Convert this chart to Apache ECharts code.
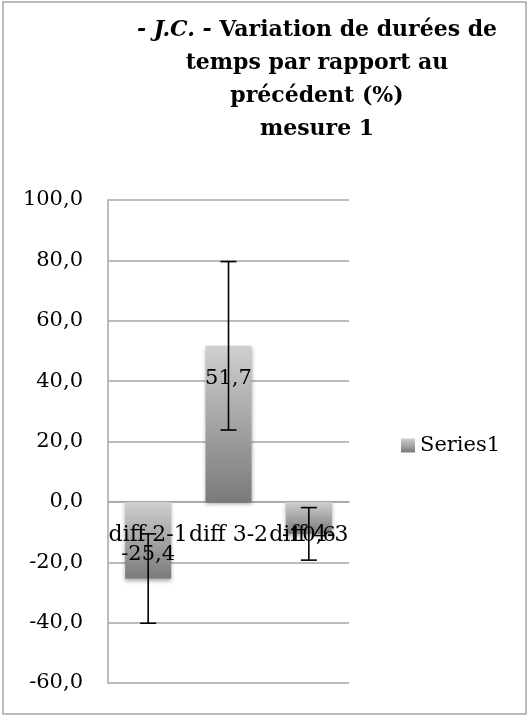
<!DOCTYPE html>
<html>
<head>
<meta charset="utf-8">
<script src="https://cdn.jsdelivr.net/npm/echarts@6/dist/echarts.min.js"></script>
<style>
  html, body { margin: 0; padding: 0; background: #fff; }
  #chart { width: 530px; height: 717px; }
</style>
</head>
<body>
<div id="chart"></div>
<script>
// Variation of time durations relative to the previous one (%), measure 1
const categories = ['diff 2-1', 'diff 3-2', 'diff 4-3'];
const values = [-25.4, 51.7, -10.6];
const errorMargins = [14.8, 27.9, 8.7];
const yTicks = { min: -60, max: 100, step: 20 };
const seriesName = 'Series1';

const FONT = '"DejaVu Serif", serif';
const fmt = v => v.toFixed(1).replace('.', ',');

const barFill = new echarts.graphic.LinearGradient(0, 0, 0, 1, [
  { offset: 0, color: '#cfcfcf' },
  { offset: 1, color: '#7a7a7a' }
]);

// vertical shift of each value label from the bar centre
const labelShift = [14, -45, 18];

const chart = echarts.init(document.getElementById('chart'), null, { renderer: 'canvas' });

chart.setOption({
  animation: false,
  backgroundColor: '#fff',
  graphic: [
    {
      type: 'rect',
      shape: { x: 3, y: 2, width: 523, height: 712 },
      style: { fill: 'none', stroke: '#a6a6a6', lineWidth: 1.5 },
      silent: true
    },
    {
      type: 'text',
      x: 317,
      y: 14,
      style: {
        text: '{it|- J.C. -} Variation de durées de\ntemps par rapport au\nprécédent (%)\nmesure 1',
        align: 'center',
        verticalAlign: 'top',
        font: 'bold 22px ' + FONT,
        fill: '#000',
        lineHeight: 33,
        rich: {
          it: { fontStyle: 'italic', fontWeight: 'bold', fontSize: 22, fontFamily: FONT, lineHeight: 33 }
        }
      }
    }
  ],
  legend: {
    data: [seriesName],
    left: 396,
    top: 430,
    itemWidth: 14,
    itemHeight: 14,
    icon: 'rect',
    textStyle: { fontFamily: FONT, fontSize: 21, color: '#000' }
  },
  grid: { left: 108, right: 181, top: 200, bottom: 34, containLabel: false },
  xAxis: {
    type: 'category',
    data: categories,
    axisLine: { show: true, onZero: true, lineStyle: { color: '#a6a6a6', width: 1.5 } },
    axisTick: { show: false },
    axisLabel: { show: false },
    splitLine: { show: false }
  },
  yAxis: {
    type: 'value',
    min: yTicks.min,
    max: yTicks.max,
    interval: yTicks.step,
    axisLine: { show: true, lineStyle: { color: '#a6a6a6', width: 1.5 } },
    axisTick: { show: false },
    axisLabel: {
      formatter: v => fmt(v),
      margin: 25,
      fontFamily: FONT,
      fontSize: 21,
      color: '#000'
    },
    splitLine: { show: true, lineStyle: { color: '#a6a6a6', width: 1.5 } }
  },
  series: [
    {
      name: seriesName,
      type: 'bar',
      barWidth: 46,
      itemStyle: {
        color: barFill,
        shadowColor: 'rgba(0,0,0,0.35)',
        shadowBlur: 4,
        shadowOffsetY: 2
      },
      data: values.map((v, i) => ({
        value: v,
        label: {
          show: true,
          position: 'inside',
          offset: [0, labelShift[i]],
          formatter: p => fmt(p.value),
          fontFamily: FONT,
          fontSize: 21,
          color: '#000'
        }
      })),
      z: 2
    },
    {
      // category names sit next to the zero line
      name: 'categoryNames',
      type: 'custom',
      z: 4,
      silent: true,
      data: categories.map((c, i) => [i, 0]),
      renderItem: (params, api) => {
        const p = api.coord([api.value(0), 0]);
        return {
          type: 'text',
          x: p[0],
          y: p[1] + 33,
          style: {
            text: categories[params.dataIndex],
            align: 'center',
            verticalAlign: 'middle',
            font: '22px ' + FONT,
            fill: '#000'
          }
        };
      }
    },
    {
      name: 'errors',
      type: 'custom',
      z: 3,
      silent: true,
      data: values.map((v, i) => [i, v, errorMargins[i]]),
      renderItem: (params, api) => {
        const x = api.value(0);
        const v = api.value(1);
        const e = api.value(2);
        const hi = api.coord([x, v + e]);
        const lo = api.coord([x, v - e]);
        const cap = 8;
        const st = { stroke: '#000', lineWidth: 1.6 };
        return {
          type: 'group',
          children: [
            { type: 'line', shape: { x1: hi[0], y1: hi[1], x2: lo[0], y2: lo[1] }, style: st },
            { type: 'line', shape: { x1: hi[0] - cap, y1: hi[1], x2: hi[0] + cap, y2: hi[1] }, style: st },
            { type: 'line', shape: { x1: lo[0] - cap, y1: lo[1], x2: lo[0] + cap, y2: lo[1] }, style: st }
          ]
        };
      }
    }
  ]
});
</script>
</body>
</html>
